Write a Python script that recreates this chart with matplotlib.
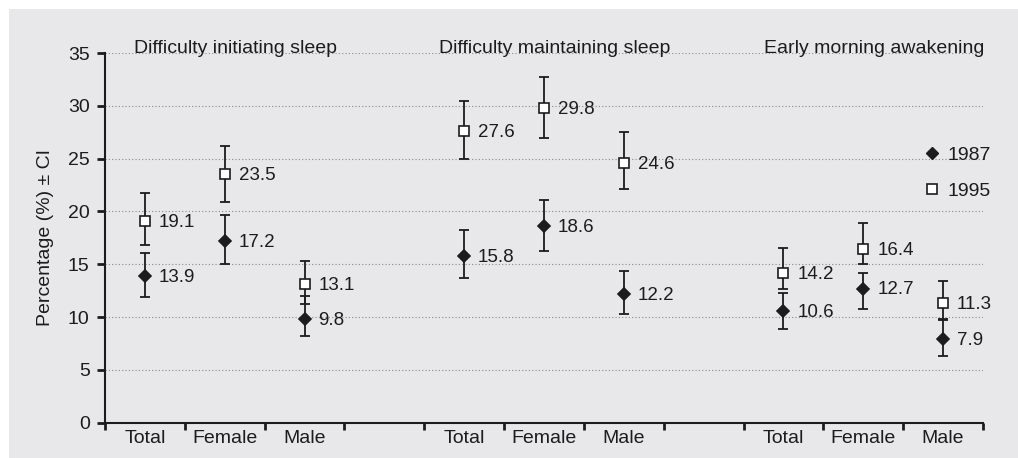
import numpy as np
import matplotlib.pyplot as plt
from matplotlib.lines import Line2D
from matplotlib.patches import Rectangle

plt.rcParams['font.family'] = ['Liberation Sans', 'DejaVu Sans']

groups = ["Difficulty initiating sleep", "Difficulty maintaining sleep", "Early morning awakening"]
sexes = ["Total", "Female", "Male"]

# 1987 survey (filled diamonds)
v1987 = [13.9, 17.2, 9.8, 15.8, 18.6, 12.2, 10.6, 12.7, 7.9]
lo1987 = [11.9, 15.0, 8.2, 13.7, 16.3, 10.3, 8.85, 10.8, 6.35]
hi1987 = [16.1, 19.7, 12.0, 18.2, 21.1, 14.4, 12.3, 14.2, 9.7]
# 1995 survey (open squares)
v1995 = [19.1, 23.5, 13.1, 27.6, 29.8, 24.6, 14.2, 16.4, 11.3]
lo1995 = [16.8, 20.9, 11.2, 25.0, 27.0, 22.1, 12.7, 15.0, 9.85]
hi1995 = [21.7, 26.2, 15.3, 30.5, 32.7, 27.5, 16.55, 18.9, 13.4]

ink = '#1c1c1c'
fs = 14
fig = plt.figure(figsize=(10.18, 4.58), dpi=100, facecolor='white')
fig.patches.append(Rectangle((9 / 1018, 0), 1, 1 - 9 / 458, transform=fig.transFigure,
                             facecolor='#e8e8ea', edgecolor='none', zorder=-10))
ax = fig.add_axes([105 / 1018, 35.3 / 458, 878 / 1018, 369.7 / 458])
ax.set_facecolor('none')
ax.set_zorder(1)

x = np.array([g * 4 + s + 0.5 for g in range(3) for s in range(3)])

def draw(vals, lo, hi, marker, ms, face):
    vals = np.array(vals)
    err = [vals - np.array(lo), np.array(hi) - vals]
    ax.errorbar(x, vals, yerr=err, fmt='none', ecolor=ink, elinewidth=1.3,
                capsize=3.6, capthick=1.3, zorder=3)
    ax.plot(x, vals, linestyle='none', marker=marker, ms=ms, mfc=face, mec=ink,
            mew=1.2, zorder=4)
    for xi, v in zip(x, vals):
        ax.annotate(f"{v:.1f}", (xi, v), xytext=(10, -1), textcoords='offset points',
                    ha='left', va='center', fontsize=13.5, color=ink)

draw(v1987, lo1987, hi1987, 'D', 6.2, ink)
draw(v1995, lo1995, hi1995, 's', 7.2, 'white')

for g, name in enumerate(groups):
    ax.text(g * 4 + 1.64, 35, name, ha='center', va='baseline', fontsize=fs, color=ink)

ax.set_xlim(0, 11)
ax.set_ylim(0, 35)
ax.set_yticks(range(0, 36, 5))
ax.set_xticks(range(0, 12))
ax.set_xticklabels([])
ax.set_xticks(x, minor=True)
ax.set_xticklabels(sexes * 3, minor=True)
ax.tick_params(axis='x', which='minor', length=0, pad=5.5, labelsize=fs, labelcolor=ink)
ax.tick_params(axis='x', which='major', length=5, width=2, color=ink)
ax.tick_params(axis='y', length=6, width=2, color=ink, pad=5, labelsize=fs, labelcolor=ink)

ax.yaxis.grid(True, linestyle=(0, (1, 2)), linewidth=0.8, color='#8a8a8a')
ax.set_axisbelow(True)
for side in ['top', 'right']:
    ax.spines[side].set_visible(False)
for side in ['left', 'bottom']:
    ax.spines[side].set_linewidth(1.5)
    ax.spines[side].set_color(ink)

ax.set_ylabel("Percentage (%) ± CI", fontsize=fs, color=ink)
ax.yaxis.set_label_coords(-0.058, 0.5)

handles = [Line2D([], [], linestyle='none', marker='D', ms=6.2, mfc=ink, mec=ink),
           Line2D([], [], linestyle='none', marker='s', ms=7.2, mfc='white', mec=ink, mew=1.2)]
ax.legend(handles, ["1987", "1995"], loc='center left', bbox_to_anchor=(0.934, 0.676),
          frameon=False, fontsize=fs, handlelength=0.75, handletextpad=0.42,
          labelspacing=0.95, borderpad=0, borderaxespad=0, labelcolor=ink)

fig.savefig('out.png', dpi=100, facecolor=fig.get_facecolor())
